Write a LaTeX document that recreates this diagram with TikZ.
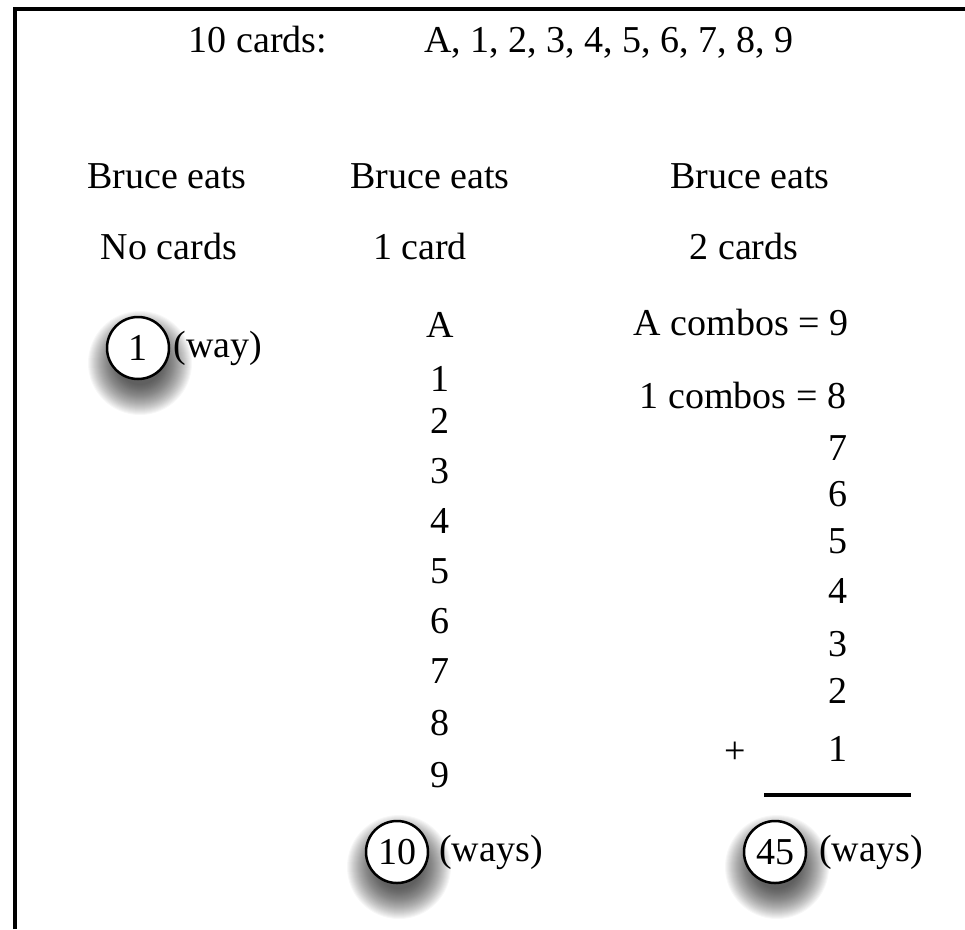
\documentclass[tikz,border=0pt]{standalone}
\usepackage{fontspec}
\setmainfont{Liberation Serif}
\begin{document}
\begin{tikzpicture}[x=1pt,y=-1pt,
  txt/.style={font=\fontsize{38}{40}\selectfont, inner sep=0pt, anchor=base},
  ring/.style={circle, draw=black, line width=2.5pt, fill=white, minimum size=62pt, inner sep=0pt,
    font=\fontsize{38}{40}\selectfont},
  rule/.style={line width=3.5pt, line cap=rect}]
\useasboundingbox (0,0) rectangle (965,929);

% frame on the left and top edges
\coordinate (tl) at (15,9);
\coordinate (tr) at (965,9);
\coordinate (bl) at (15,929);
\draw[line width=4pt] (bl) -- (tl) -- (tr);

% heading
\node[txt] (head) at (258,52) {10 cards:};
\node[txt] (deck) at (609,52) {A, 1, 2, 3, 4, 5, 6, 7, 8, 9};

% column titles
\node[txt] (b0) at (167,188) {Bruce eats};
\node[txt] (b1) at (430,188) {Bruce eats};
\node[txt] (b2) at (750,188) {Bruce eats};
\node[txt] (n0) at (169,259) {No cards};
\node[txt] (n1) at (420,259) {1 card};
\node[txt] (n2) at (744,259) {2 cards};

% soft shadows under the count circles
\foreach \cx/\cy in {138/348, 397/852, 775/852}{
  \foreach \r in {52,51,...,22}{
    \fill[black, opacity=0.032] (\cx+2,\cy+15) circle (\r);
  }
}

% column 1
\node[ring] (c1) at (138,348) {1};
\node[txt] (w1) at (218,357) {(way)};

% column 2: single cards
\foreach \v/\y [count=\i] in {A/337,1/391,2/433,3/483,4/533,5/583,6/633,7/683,8/735,9/787}{
  \node[txt] (s\i) at (440,\y) {\v};
}
\node[ring] (c10) at (397,852) {10};
\node[txt] (w10) at (491,861) {(ways)};

% column 3: pairs
\node[txt] (pa) at (741,335) {A combos = 9};
\node[txt] (p1) at (743,408) {1 combos = 8};
\foreach \v/\y [count=\i] in {7/460,6/506,5/553,4/603,3/656,2/703,1/761}{
  \node[txt] (q\i) at (838,\y) {\v};
}
\node[txt] (plus) at (735,763) {+};
\coordinate (ra) at (766,795);
\coordinate (rb) at (909,795);
\draw[rule] (ra) -- (rb);
\node[ring] (c45) at (775,852) {45};
\node[txt] (w45) at (871,861) {(ways)};
\end{tikzpicture}
\end{document}
